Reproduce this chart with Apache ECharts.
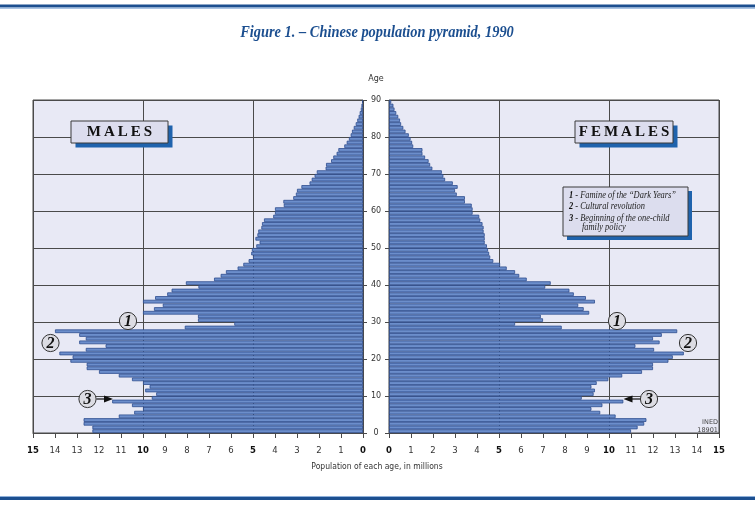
<!DOCTYPE html>
<html><head><meta charset="utf-8">
<script src="https://cdn.jsdelivr.net/npm/echarts@6/dist/echarts.min.js"></script>
<style>html,body{margin:0;padding:0;background:#fff}#c{width:755px;height:505px}</style>
</head><body><div id="c"></div>
<script>
// ---- DATA (millions, by single year of age 0..89) ----
const ageCategories = ['0','1','2','3','4','5','6','7','8','9','10','11','12','13','14','15','16','17','18','19','20','21','22','23','24','25','26','27','28','29','30','31','32','33','34','35','36','37','38','39','40','41','42','43','44','45','46','47','48','49','50','51','52','53','54','55','56','57','58','59','60','61','62','63','64','65','66','67','68','69','70','71','72','73','74','75','76','77','78','79','80','81','82','83','84','85','86','87','88','89'];
const males = [12.3,12.3,12.7,12.7,11.1,10.4,10.0,10.5,11.4,9.6,
  9.4,9.9,9.7,10.0,10.5,11.1,12.0,12.56,12.56,13.3,
  13.2,13.8,12.6,11.7,12.9,12.6,12.9,14.0,8.1,5.85,
  7.5,7.5,10.0,9.5,9.1,10.0,9.45,8.9,8.7,7.48,
  8.05,6.77,6.47,6.23,5.7,5.44,5.2,5.0,5.08,5.05,
  4.85,4.7,4.89,4.8,4.76,4.62,4.59,4.5,4.08,4.0,
  4.0,3.6,3.62,3.17,3.05,3.0,2.8,2.43,2.33,2.2,
  2.1,1.7,1.68,1.45,1.35,1.2,1.12,0.85,0.74,0.64,
  0.56,0.5,0.42,0.33,0.26,0.2,0.15,0.1,0.07,0.04];
const females = [11.0,11.3,11.6,11.7,10.3,9.6,9.2,9.7,10.65,8.76,
  9.3,9.36,9.2,9.44,9.97,10.6,11.5,12.0,12.0,12.7,
  12.9,13.4,12.05,11.2,12.3,12.0,12.4,13.1,7.85,5.73,
  7.0,6.9,9.1,8.85,8.6,9.36,8.95,8.4,8.2,7.1,
  7.35,6.26,5.92,5.73,5.35,5.05,4.74,4.6,4.55,4.5,
  4.45,4.35,4.35,4.35,4.3,4.3,4.25,4.15,4.1,3.8,
  3.8,3.76,3.45,3.45,3.08,3.0,3.12,2.9,2.55,2.47,
  2.4,1.97,1.87,1.8,1.64,1.52,1.52,1.1,1.05,0.98,
  0.9,0.75,0.65,0.55,0.5,0.42,0.33,0.25,0.2,0.1];
const boldTicks = [0,5,10,15];
const titleText = 'Figure 1. – Chinese population pyramid, 1990';
const axisTitle = 'Population of each age, in millions';
const legendLines = [['1',' - Famine of the “Dark Years”'],['2',' - Cultural revolution'],['3',' - Beginning of the one-child'],['','family policy']];

// ---- STYLE ----
const PANEL_BG = '#E8E9F5';
const LINE = '#4a4a4a';
const BAR = '#6C8ECB';
const BAR_EDGE = '#2D4D8E';
const DARKBLUE = '#1C4F90';
const SHADOW = '#1F63AD';
const BOX = '#DCDDEE';
const SERIF = '"Liberation Serif","DejaVu Serif",serif';
const SANS = '"DejaVu Sans",sans-serif';

const chart = echarts.init(document.getElementById('c'), null, {renderer:'canvas'});

const tickLabel = {
  margin: 13,
  formatter: v => boldTicks.indexOf(v) >= 0 ? '{b|' + v + '}' : '{n|' + v + '}',
  rich: {
    b: {fontFamily: SANS, fontWeight: 'bold', fontSize: 8.5, color: '#111', lineHeight: 10},
    n: {fontFamily: SANS, fontSize: 8.5, color: '#333', lineHeight: 10}
  }
};
function popAxis(gi, inverse) {
  return {type:'value', gridIndex: gi, min: 0, max: 15, interval: 1, inverse: inverse,
    axisLine: {show: true, lineStyle: {color: LINE}},
    axisTick: {show: true, length: 5, lineStyle: {color: LINE}},
    axisLabel: tickLabel, splitLine: {show: false}};
}
function gridAxis(gi, inverse) {
  return {type:'value', gridIndex: gi, min: 0, max: 15, interval: 5, inverse: inverse,
    axisLine: {show: false}, axisTick: {show: false}, axisLabel: {show: false},
    splitLine: {show: true, lineStyle: {color: LINE, width: 1}}};
}
function ageCat(gi) {
  return {type:'category', gridIndex: gi, data: ageCategories, show: false, boundaryGap: true};
}
function ageVal(gi, pos, labels) {
  return {type:'value', gridIndex: gi, position: pos, min: 0, max: 90, interval: 10,
    axisLine: {show: false},
    axisTick: {show: true, length: 4, lineStyle: {color: LINE}},
    axisLabel: labels ? {show: true, align: 'center', margin: 13, fontFamily: SANS, fontSize: 8, color: '#333'} : {show: false},
    splitLine: {show: true, lineStyle: {color: LINE, width: 1}}};
}

function shadowBox(x, y, w, h, off) {
  return [
    {type:'rect', shape:{x:x+off, y:y+off, width:w, height:h}, style:{fill: SHADOW}, z: 10},
    {type:'rect', shape:{x:x, y:y, width:w, height:h}, style:{fill: BOX, stroke: '#3a3a3a', lineWidth: 1}, z: 11}
  ];
}
function circleNum(cx, cy, n) {
  return [
    {type:'circle', shape:{cx:cx, cy:cy, r:8.6}, style:{fill:'#DCDCE3', stroke:'#333', lineWidth:1}, z: 12},
    {type:'text', x: cx, y: cy + 0.5, z: 13, style:{text: n, fill:'#111', font: 'italic bold 16px ' + SERIF, textAlign:'center', textVerticalAlign:'middle'}}
  ];
}
function arrow(x1, x2, y) {
  const dir = x2 > x1 ? 1 : -1;
  return [
    {type:'line', shape:{x1:x1, y1:y, x2:x2 - dir*6, y2:y}, style:{stroke:'#111', lineWidth:1.2}, z: 12},
    {type:'polygon', shape:{points:[[x2, y],[x2 - dir*9, y-3.5],[x2 - dir*9, y+3.5]]}, style:{fill:'#111'}, z: 12}
  ];
}

const graphics = [].concat(
  [
    {type:'rect', shape:{x:0, y:4.5, width:755, height:3}, style:{fill: DARKBLUE}},
    {type:'rect', shape:{x:0, y:7.5, width:755, height:1.2}, style:{fill: '#8FB0DA'}},
    {type:'rect', shape:{x:0, y:496, width:755, height:1.2}, style:{fill: '#8FB0DA'}},
    {type:'rect', shape:{x:0, y:497, width:755, height:3}, style:{fill: DARKBLUE}},
    {type:'text', x: 377, y: 33, scaleX: 0.9, style:{text: titleText, fill: DARKBLUE, font: 'italic bold 16px ' + SERIF, textAlign:'center', textVerticalAlign:'middle'}},
    {type:'text', x: 376, y: 79, style:{text: 'Age', fill:'#333', font: '8px ' + SANS, textAlign:'center', textVerticalAlign:'middle'}},
    {type:'text', x: 377, y: 467, scaleX: 0.85, style:{text: axisTitle, fill:'#333', font: '9px ' + SANS, textAlign:'center', textVerticalAlign:'middle'}},
    {type:'text', x: 718, y: 422.5, z: 12, style:{text: 'INED', fill:'#444', font: '6.5px ' + SANS, textAlign:'right', textVerticalAlign:'middle'}},
    {type:'text', x: 718, y: 430, z: 12, style:{text: '18901', fill:'#444', font: '6.5px ' + SANS, textAlign:'right', textVerticalAlign:'middle'}}
  ],
  shadowBox(71, 121, 97, 22, 4.5),
  [{type:'text', x: 119.5, y: 132.5, z: 12, style:{text: 'M\u2009A\u2009L\u2009E\u2009S', fill:'#111', font: 'bold 15px ' + SERIF, textAlign:'center', textVerticalAlign:'middle'}}],
  shadowBox(575, 121, 98, 22, 4.5),
  [{type:'text', x: 624, y: 132.5, z: 12, style:{text: 'F\u2009E\u2009M\u2009A\u2009L\u2009E\u2009S', fill:'#111', font: 'bold 15px ' + SERIF, textAlign:'center', textVerticalAlign:'middle'}}],
  shadowBox(563, 187, 125, 49, 4),
  legendLines.map((ln, i) => ({
    type:'text', x: ln[0] ? 569 : 582, y: [195, 206.5, 218, 227.3][i], z: 12, scaleX: 0.8,
    style:{rich:{b:{font:'italic bold 10.5px ' + SERIF, fill:'#111'}, t:{font:'italic 10.5px ' + SERIF, fill:'#222'}},
      text: (ln[0] ? '{b|' + ln[0] + '}' : '') + '{t|' + ln[1] + '}', textVerticalAlign:'middle'}
  })),
  circleNum(128, 321, '1'),
  circleNum(50.5, 343, '2'),
  circleNum(87.5, 399, '3'),
  arrow(96.5, 113, 399),
  circleNum(617, 321, '1'),
  circleNum(688, 343, '2'),
  circleNum(649, 399, '3'),
  arrow(640, 623.5, 399)
);

chart.setOption({
  animation: false,
  backgroundColor: '#fff',
  grid: [
    {left: 33, right: 392, top: 100, bottom: 72, show: true, backgroundColor: PANEL_BG, borderColor: LINE, borderWidth: 1},
    {left: 389, right: 36, top: 100, bottom: 72, show: true, backgroundColor: PANEL_BG, borderColor: LINE, borderWidth: 1}
  ],
  xAxis: [popAxis(0, true), popAxis(1, false), gridAxis(0, true), gridAxis(1, false)],
  yAxis: [ageCat(0), ageCat(1), ageVal(0, 'right', false), ageVal(1, 'left', true)],
  series: [
    {type:'bar', name:'Males', xAxisIndex: 0, yAxisIndex: 0, data: males, barWidth: '100%', barCategoryGap: '0%',
      itemStyle: {color: BAR, borderColor: BAR_EDGE, borderWidth: 0.8}, z: 3},
    {type:'bar', name:'Females', xAxisIndex: 1, yAxisIndex: 1, data: females, barWidth: '100%', barCategoryGap: '0%',
      itemStyle: {color: BAR, borderColor: BAR_EDGE, borderWidth: 0.8}, z: 3}
  ],
  graphic: graphics
});
</script>
</body></html>
